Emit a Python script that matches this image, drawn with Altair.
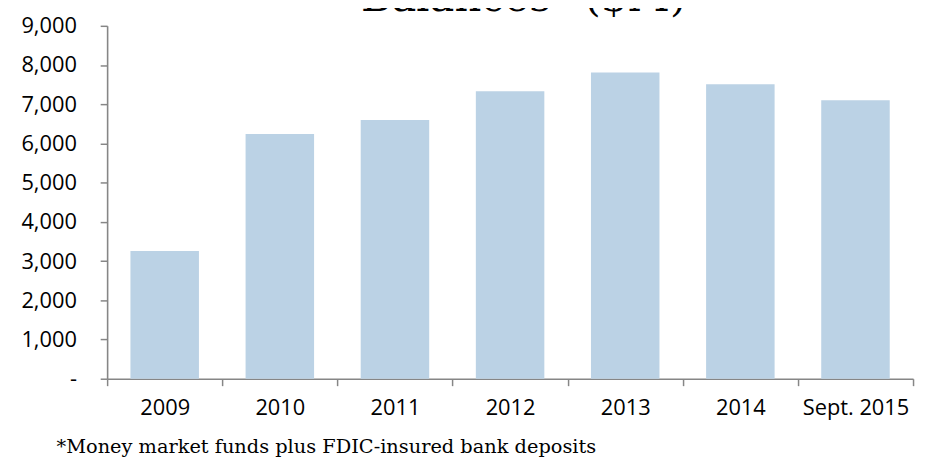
import altair as alt
import pandas as pd

categories = ["2009", "2010", "2011", "2012", "2013", "2014", "Sept. 2015"]
balances = [3260, 6240, 6600, 7330, 7810, 7510, 7100]
y_ticks = [0, 1000, 2000, 3000, 4000, 5000, 6000, 7000, 8000, 9000]
title_text = "Balances* ($M)"
footnote_text = "*Money market funds plus FDIC-insured bank deposits"

df = pd.DataFrame({"cat": categories, "val": balances})

bars = alt.Chart(df).mark_bar(color="#bbd2e5", width=alt.RelativeBandSize(0.595)).encode(
    x=alt.X(
        "cat:N",
        sort=categories,
        scale=alt.Scale(paddingInner=0, paddingOuter=0),
        axis=alt.Axis(
            title=None, labelAngle=0, labelFont="Open Sans", labelFontSize=22,
            labelColor="#000000", labelPadding=12, tickBand="extent",
            domainColor="#868686", domainWidth=1.6, tickColor="#868686",
            tickWidth=1.5, tickSize=7, grid=False,
        ),
    ),
    y=alt.Y(
        "val:Q",
        scale=alt.Scale(domain=[0, 9000], nice=False),
        axis=alt.Axis(
            title=None, values=y_ticks,
            labelExpr="datum.value == 0 ? '-\u00a0\u00a0' : format(datum.value, ',')",
            labelFont="Open Sans", labelFontSize=22, labelColor="#000000",
            labelPadding=24, domainColor="#868686", domainWidth=1.6,
            tickColor="#868686", tickWidth=1.5, tickSize=7, grid=False,
        ),
    ),
)

title = alt.Chart(pd.DataFrame({"t": [title_text]})).mark_text(
    font="DejaVu Serif", fontSize=42, align="left", baseline="alphabetic",
    color="#000000",
).encode(text="t:N", x=alt.value(256), y=alt.value(-15))

foot = alt.Chart(pd.DataFrame({"t": [footnote_text]})).mark_text(
    font="DejaVu Serif", fontSize=19.5, align="left", baseline="alphabetic",
    color="#000000",
).encode(text="t:N", x=alt.value(-51), y=alt.value(431))

chart = alt.layer(bars, title, foot).properties(
    width=813, height=356,
    autosize=alt.AutoSizeParams(type="none"),
    padding={"left": 100, "top": 16, "right": 5, "bottom": 78},
).configure_view(stroke=None)

chart.save("out.html", embed_options={"renderer": "svg", "actions": False})
